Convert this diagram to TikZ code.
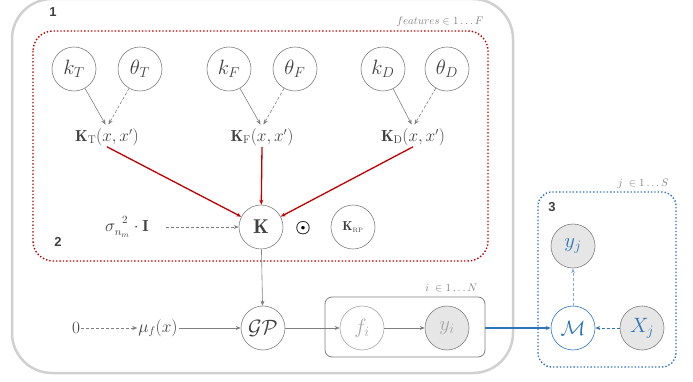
\documentclass[tikz,border=0pt]{standalone}
\usepackage{fontspec}
\usepackage{amsmath}
\newfontfamily\labfont{Liberation Sans}
\usetikzlibrary{arrows.meta}
\definecolor{cgray}{HTML}{7F7F7F}
\definecolor{ctext}{HTML}{404040}
\definecolor{cred}{HTML}{C00000}
\definecolor{cblue}{HTML}{2E75B6}
\definecolor{cfill}{HTML}{E6E6E6}
\definecolor{cframe}{HTML}{D0D0D0}
\definecolor{clight}{HTML}{A6A6A6}
\definecolor{clab}{HTML}{808080}
\tikzset{
  var/.style={circle,draw=cgray,line width=0.6pt,minimum size=44pt,inner sep=0pt,text=ctext,font=\fontsize{20}{22}\selectfont},
  obs/.style={var,fill=cfill},
  kern/.style={inner sep=1pt,text=ctext,font=\fontsize{16}{18}\selectfont},
  num/.style={font=\labfont\bfseries\fontsize{13}{15}\selectfont,text=ctext},
  plab/.style={font=\fontsize{11}{13}\selectfont,text=clab},
  tip/.style={-{Stealth[length=5pt,width=4pt]}},
  solid arr/.style={tip,draw=cgray,line width=0.6pt},
  dash arr/.style={tip,draw=cgray,line width=0.6pt,dash pattern=on 3pt off 2pt},
  red arr/.style={tip,draw=cred,line width=1.3pt},
  blue arr/.style={tip,draw=cblue,line width=0.8pt,dash pattern=on 3pt off 2pt},
}
\begin{document}
\begin{tikzpicture}[x=1pt,y=-1pt]
\useasboundingbox (0,0) rectangle (693,382);
% outer frame
\draw[cframe,line width=2.5pt,rounded corners=40pt] (12,-1) rectangle (513,373);
\node[num] (n1) at (53,12) {1};
% red plate
\draw[cred,line width=1.4pt,dotted,rounded corners=20pt] (33,31) rectangle (488,261);
\node[plab,anchor=east] (featlab) at (487,22) {$features \in 1 \ldots F$};
\node[num] (n2) at (58,242) {2};
% kernels
\node[var] (kT) at (74,69) {$k_T$};
\node[var] (tT) at (140,69) {$\theta_T$};
\node[var] (kF) at (229,69) {$k_F$};
\node[var] (tF) at (295,69) {$\theta_F$};
\node[var] (kD) at (383,69) {$k_D$};
\node[var] (tD) at (447,69) {$\theta_D$};
\node[kern] (KT) at (107,137) {$\mathbf{K}_{\mathrm{T}}(x,x')$};
\node[kern] (KF) at (262,137) {$\mathbf{K}_{\mathrm{F}}(x,x')$};
\node[kern] (KD) at (413,137) {$\mathbf{K}_{\mathrm{D}}(x,x')$};
\draw[solid arr,shorten >=3pt] (kT) -- (KT.north);
\draw[dash arr,shorten >=3pt] (tT) -- (KT.north);
\draw[solid arr,shorten >=3pt] (kF) -- (KF.north);
\draw[dash arr,shorten >=3pt] (tF) -- (KF.north);
\draw[solid arr,shorten >=3pt] (kD) -- (KD.north);
\draw[dash arr,shorten >=3pt] (tD) -- (KD.north);
\node[var] (K) at (261,227) {$\mathbf{K}$};
\node[font=\fontsize{18}{20}\selectfont] (odot) at (303,228) {$\boldsymbol{\odot}$};
\node[var] (KRP) at (353,227) {\fontsize{13}{15}\selectfont$\mathbf{K}_{\scriptscriptstyle\mathrm{RP}}$};
\node[kern] (sig) at (127,227) {$\sigma_{n_m}^{\hphantom{n}\raisebox{2pt}{$\scriptstyle 2$}}\cdot\mathbf{I}$};
\coordinate (sigE) at (166,227);
\draw[dash arr] (sigE) -- (K);
\draw[red arr] (KT.south) -- (K);
\draw[red arr] (KF.south) -- (K);
\draw[red arr] (KD.south) -- (K);
% GP row
\node[var] (GP) at (263,328) {$\mathcal{GP}$};
\draw[solid arr] (K) -- (GP);
\node[kern] (zero) at (76,328) {$0$};
\node[kern] (mu) at (158,328) {$\mu_f(x)$};
\draw[dash arr] (zero) -- (mu);
\draw[solid arr] (mu) -- (GP);
% inner plate
\draw[cgray,line width=0.8pt,rounded corners=7pt] (325,297) rectangle (485,357);
\coordinate (plateE) at (485,328);
\node[plab,anchor=east] (ilab) at (481,288) {$i\; \in 1 \ldots N$};
\node[var,draw=clight,text=clight] (fi) at (362,328) {$f_i$};
\node[obs,text=clight] (yi) at (447,328) {$y_i$};
\draw[solid arr] (GP) -- (fi);
\draw[solid arr] (fi) -- (yi);
% blue plate
\draw[cblue,line width=1.4pt,dotted,rounded corners=14pt] (538,192) rectangle (676,367);
\node[plab,anchor=east] (jlab) at (672,184) {$j\; \in 1 \ldots S$};
\node[num] (n3) at (552,207) {3};
\node[obs,text=cblue] (yj) at (573,246) {$y_j$};
\node[var,draw=cblue,text=cblue] (M) at (573,328) {$\mathcal{M}$};
\node[obs,text=cblue] (Xj) at (642,328) {$X_j$};
\draw[tip,draw=cblue,line width=1.3pt] (plateE) -- (M);
\draw[blue arr,draw=cblue!60] (M) -- (yj);
\draw[blue arr] (Xj) -- (M);
\end{tikzpicture}
\end{document}
